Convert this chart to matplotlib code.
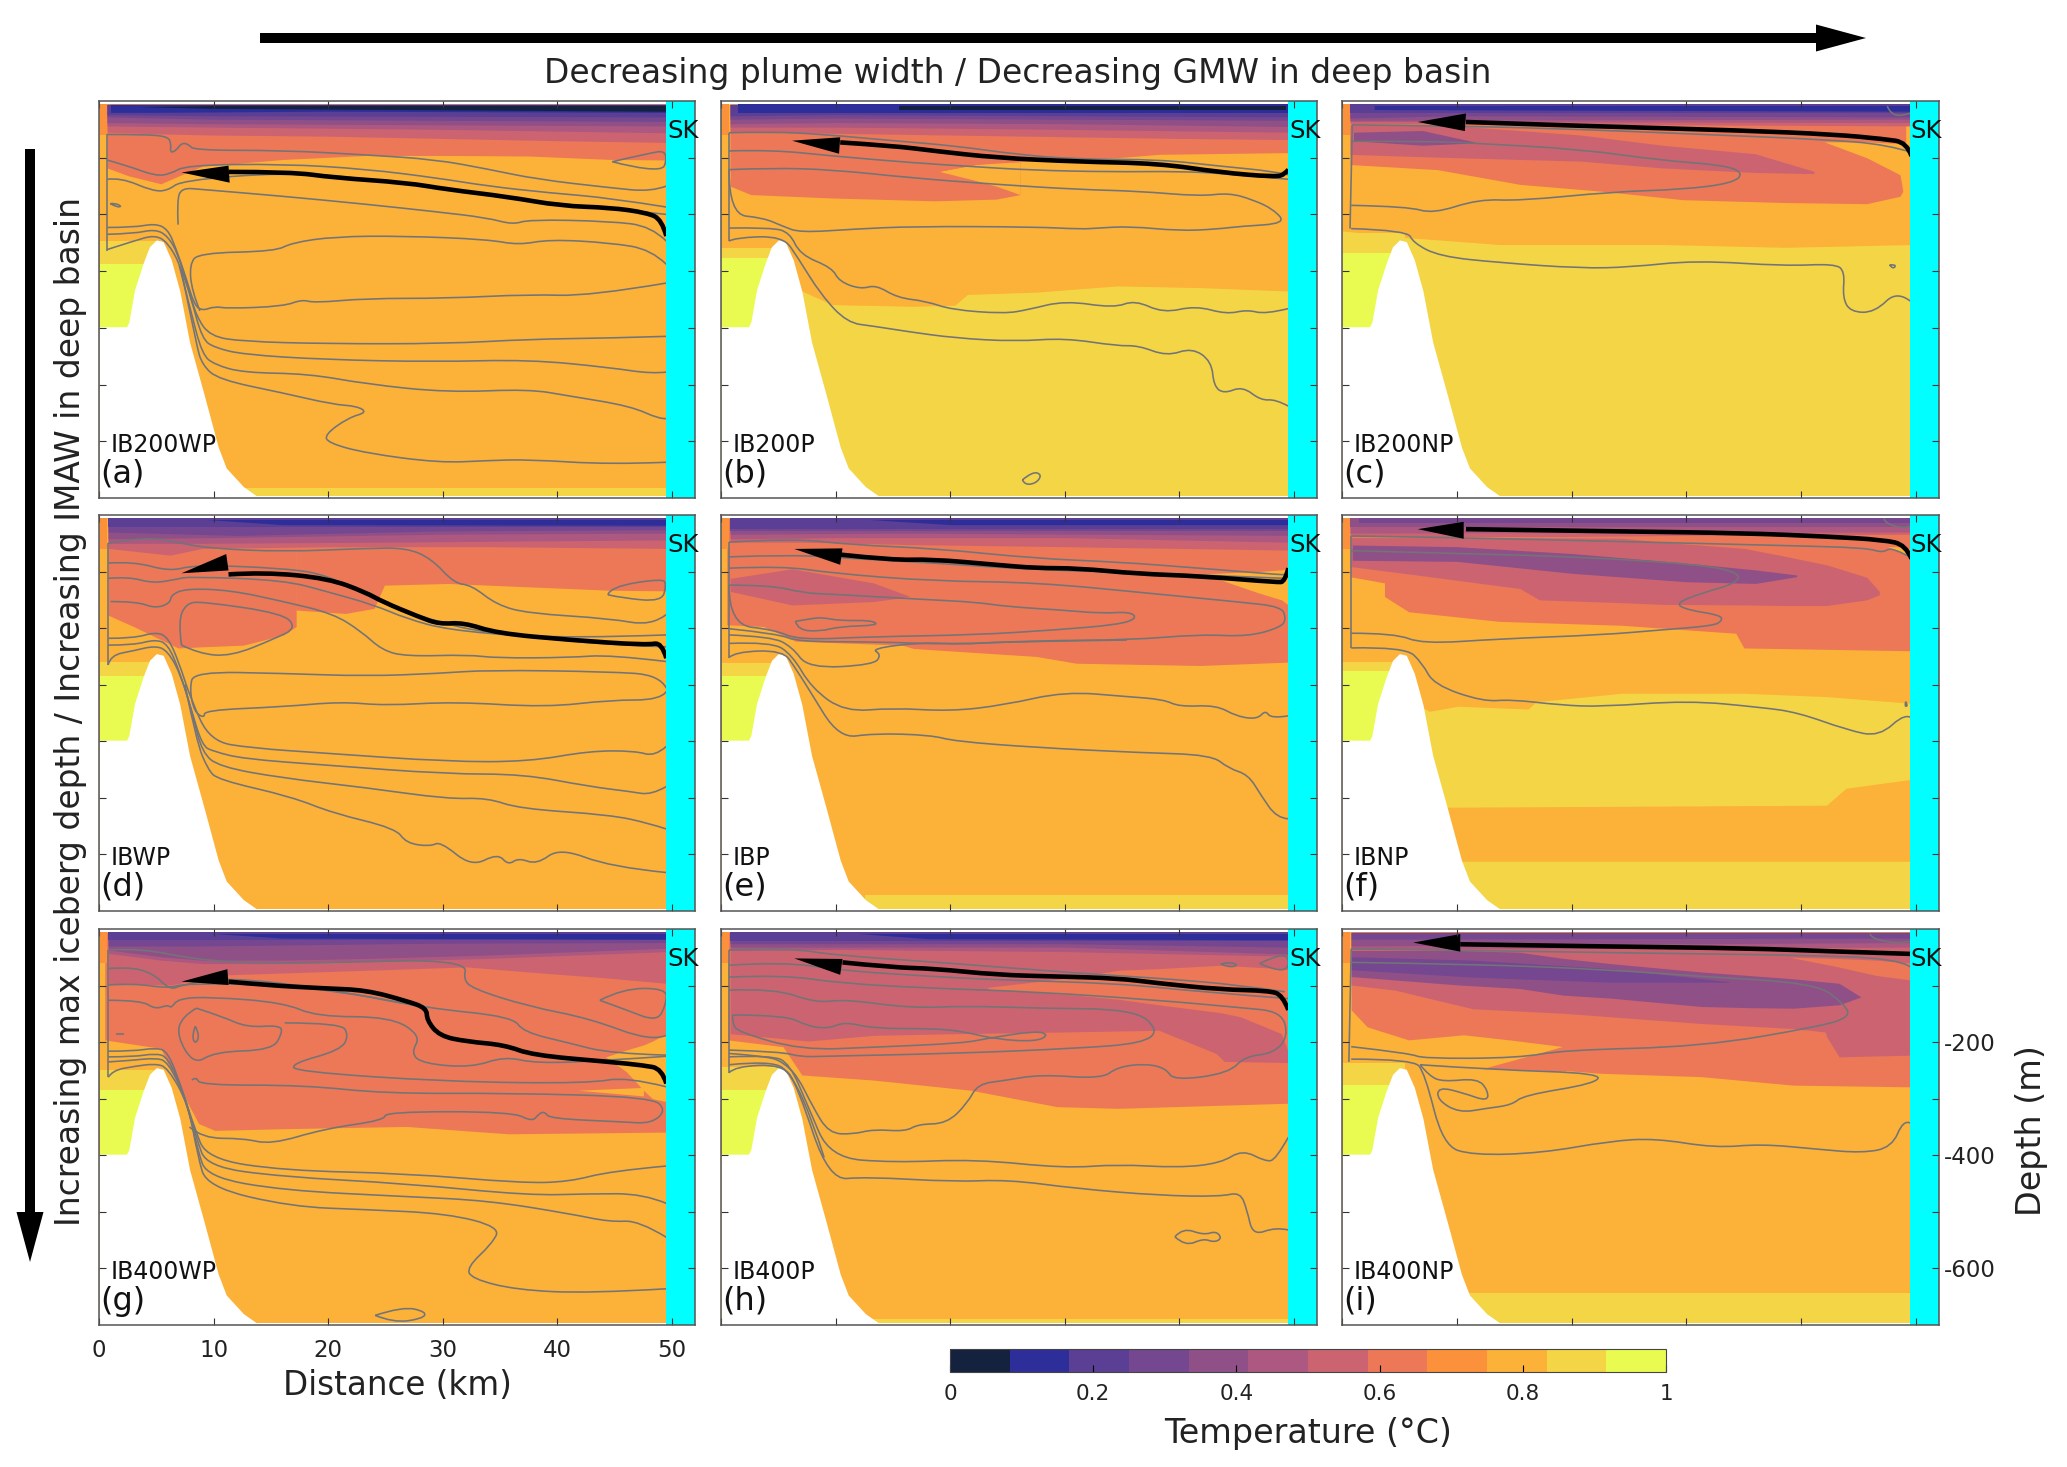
import numpy as np
import matplotlib
matplotlib.use('Agg')
import matplotlib.pyplot as plt
from matplotlib.colors import ListedColormap, BoundaryNorm
from matplotlib.cm import ScalarMappable
from matplotlib.patches import FancyArrow, PathPatch
from matplotlib.path import Path

W, H = 2067, 1467

# colour bands of the temperature scale
band_colors = ['#14223f', '#2e2e9a', '#5a3f95', '#744790', '#8f5088', '#ad5880',
               '#cb6470', '#ec7857', '#fb923b', '#fcb138', '#f4d546', '#e9fb50']
band_edges = np.linspace(0, 1, 13)
cbar_ticks = [0, 0.2, 0.4, 0.6, 0.8, 1]
cbar_labels = ['0', '0.2', '0.4', '0.6', '0.8', '1']

# bathymetry, km and m
bathy_x = [0, 2.4, 2.6, 3.1, 3.85, 4.4, 5, 5.6, 6.3, 7.05, 7.9, 9.2, 10.4, 11.1, 12.6, 13.8, 14.2]
bathy_d = [398, 398, 390, 333, 286, 257, 245, 248, 280, 335, 425, 520, 610, 647, 680, 697, 700]

names = ['a', 'b', 'c', 'd', 'e', 'f', 'g', 'h', 'i']
runs = ['IB200WP', 'IB200P', 'IB200NP', 'IBWP', 'IBP', 'IBNP', 'IB400WP', 'IB400P', 'IB400NP']
base_temp = [0.79, 0.875, 0.875, 0.79, 0.79, 0.875, 0.79, 0.79, 0.79]
# depth where the 0.875 and the 0.96 band start in the shallow basin
basin_yellow = [247, 259, 232, 259, 262, 259, 250, 244, 237]
basin_green = [288, 276, 268, 285, 285, 275, 285, 284, 275]

# fills: (temp, x, lower) from the surface, or (temp, x, upper, lower)
fill_a = [
    (0.875, [12.6, 49.5], [682, 682], [697, 697]),
    (0.625, [0.7, 2.6, 5.4, 7.2, 9, 16.1, 23.3, 30.4, 37.5, 44.6, 49.5], [118, 132, 146, 130, 115, 103, 96, 96, 97, 103, 104]),
    (0.54, [0.7, 5.4, 10, 20, 30, 40, 49.5], [55, 58, 60, 62, 66, 70, 73]),
    (0.46, [0.7, 10, 20, 30, 49.5], [44, 46, 48, 50, 56]),
    (0.375, [0.7, 10, 49.5], [38, 40, 44]),
    (0.29, [0.7, 10, 49.5], [28, 32, 36]),
    (0.21, [0.7, 10, 49.5], [24, 26, 28]),
    (0.125, [1, 5, 20, 49.5], [20, 20, 18, 20]),
    (0.04, [3.5, 10, 49.5], [10, 8, 8], [10, 13, 18]),
]
lines_a = [
    [(0.7, 59), (3.7, 59), (6, 62), (6.3, 76), (6.2, 91), (6.7, 88), (7.2, 74), (7.8, 76), (8.3, 87), (16.1, 87), (23.3, 95), (29.3, 103), (33.9, 120), (38.2, 138), (44.6, 153), (48.2, 160), (49.5, 150)],
    [(0.7, 104), (2.6, 115), (4.9, 132), (6.2, 129), (7.6, 113), (16.1, 111), (23.3, 120), (29.6, 136), (33.9, 150), (39.3, 162), (44.6, 171), (49.5, 187)],
    [(44.8, 107), (48.2, 91), (49.4, 88), (49.5, 108), (49.1, 122), (46.4, 116), (44.8, 107)],
    [(0.7, 138), (1.9, 135), (4.7, 159), (6, 158), (7.2, 140), (16.1, 126), (23.3, 136), (30.4, 155), (39.3, 180), (44.6, 189), (49.5, 200)],
    [(6.9, 218), (6.8, 176), (7.2, 153), (9, 156), (16.1, 168), (23.3, 182), (29.3, 195), (33.9, 206), (36.1, 218), (37.5, 209), (44.6, 212), (48.2, 221), (49.5, 247)],
    [(0.7, 223), (3, 223), (4.9, 216), (6, 226), (6.7, 259), (7.6, 312), (8.3, 359), (9, 370), (10.1, 362), (11.2, 366), (16.1, 362), (17.7, 350), (18.8, 356), (23.3, 348), (30.4, 348), (37.5, 341), (42.8, 344), (49.5, 321)],
    [(49.5, 288), (48.2, 262), (44.6, 250), (39.3, 244), (36.6, 254), (33.9, 244), (26.5, 238), (20.6, 239), (16.8, 250), (15.4, 265), (8.7, 268), (7.9, 288), (8.1, 335), (8.8, 370)],
    [(0.7, 235), (3, 234), (4.9, 226), (6, 238), (6.9, 270), (7.8, 330), (8.5, 380), (9.7, 415), (12.6, 424), (19.7, 428), (30.4, 428), (37.5, 420), (44.6, 418), (49.5, 415)],
    [(0.7, 262), (3, 247), (4.9, 236), (6, 250), (7, 285), (8, 345), (9, 420), (10.1, 435), (12.6, 447), (19.7, 456), (29.3, 460), (37.5, 456), (44.6, 470), (48.2, 481), (49.5, 478)],
    [(7, 290), (8, 370), (9, 447), (10.1, 465), (12.6, 479), (18.3, 481), (23.3, 499), (30.4, 514), (37.5, 508), (41, 520), (46.4, 538), (48.9, 561), (49.5, 560)],
    [(7.2, 300), (8.5, 430), (9, 465), (10.4, 491), (16.1, 515), (20.4, 535), (22.5, 538), (23.4, 549), (21.8, 558), (19.7, 588), (20, 603), (23.3, 621), (29.7, 638), (33.9, 634), (37.5, 632), (44.6, 641), (49.5, 637)],
    [(1, 181), (1.4, 180), (2, 186), (1.5, 187), (1, 181)],
    [(0.7, 59), (0.7, 265)],
]
plume_a = [(49.5, 238), (49.1, 209), (47.8, 197), (44.6, 188), (40.3, 185), (35.7, 169), (30.4, 156), (26.8, 144), (20.4, 135), (16.8, 125), (11.3, 125)]
head_a = [(7.2, 126), (11.3, 114), (11.4, 144)]

fill_b = [
    (0.79, [0, 7.05, 9.7, 16.8, 20.4, 21.5, 27.5, 34.6, 41.8, 49.5], [259, 335, 359, 362, 360, 341, 337, 326, 329, 335]),
    (0.625, [0.8, 2.6, 9.7, 18.6, 24, 26.1], [150, 165, 171, 176, 173, 165]),
    (0.79, [19, 22.2, 24, 26.1], [124, 112, 108, 107], [124, 140, 150, 165]),
    (0.625, [0.8, 19, 22.2, 27.5, 34.6, 38.2, 49.5], [124, 124, 112, 105, 100, 94, 91]),
    (0.54, [0.8, 10, 20, 30, 40, 49.5], [54, 57, 60, 63, 66, 68]),
    (0.46, [0.8, 10, 30, 49.5], [46, 46, 50, 55]),
    (0.375, [0.8, 10, 30, 49.5], [40, 38, 40, 45]),
    (0.29, [0.8, 10, 49.5], [32, 30, 34]),
    (0.21, [0.8, 10, 49.5], [26, 24, 28]),
    (0.125, [1.5, 4, 15, 49.5], [22, 22, 22, 22]),
    (0.04, [15.5, 49.3], [9, 9], [15, 15]),
]
lines_b = [
    [(0.7, 56), (4.4, 54), (9, 59), (15, 70), (20.4, 79), (25.7, 94), (31.1, 103), (38.2, 103), (43.6, 115), (48.2, 124), (49.5, 130)],
    [(0.7, 88), (4.4, 86), (9.7, 97), (16.8, 109), (21.5, 115), (27, 122), (34, 125), (40, 124), (44, 128), (49.5, 138)],
    [(0.7, 121), (4.4, 118), (9.7, 121), (16.8, 136), (24, 147), (31.1, 156), (36.5, 159), (41.8, 168), (44.3, 162), (46.4, 174), (48.2, 191), (49.3, 216), (45.3, 221), (43.2, 226), (40, 229), (35.7, 221), (32.9, 224), (31.4, 226), (27.5, 222), (16.8, 221), (11.5, 226), (6.9, 232), (5.4, 221), (3.7, 206), (0.7, 200), (0.7, 121)],
    [(0.7, 224), (4.4, 223), (6, 232), (6.9, 271), (9.7, 294), (10.3, 318), (12.2, 332), (13.5, 324), (15.4, 347), (17.9, 353), (20.1, 368), (24.7, 375), (26.8, 368), (30, 352), (34.3, 365), (36.1, 351), (38.6, 374), (41.4, 361), (44.1, 376), (45.9, 368), (47.5, 376), (49.5, 366)],
    [(0.7, 247), (1.2, 241), (5.4, 238), (6.7, 276), (8.7, 341), (11, 391), (13.3, 397), (16.1, 406), (20.4, 418), (25.7, 424), (30, 418), (34.6, 432), (36.4, 431), (38.9, 450), (41.1, 435), (42.8, 459), (43, 503), (43.9, 516), (45.5, 503), (47.1, 528), (48.4, 526), (49.5, 538)],
    [(26.3, 668), (27.2, 653), (28, 659), (27.5, 674), (26.5, 677), (26.3, 668)],
    [(0.7, 56), (0.7, 247)],
]
plume_b = [(49.5, 121), (49.2, 129), (48.4, 134), (43.6, 126), (38.2, 110), (31.1, 107), (24, 100), (18.6, 88), (15, 79), (10.4, 73)]
head_b = [(6.2, 70), (10.4, 64), (10.3, 93)]

fill_c = [
    (0.79, [0, 5.8, 13.7, 27.9, 38.6, 49.7], [229, 241, 253, 253, 258, 253]),
    (0.625, [0.7, 8.3, 15.5, 22.6, 29.7, 38.6, 45.7, 48.6, 49.1], [112, 121, 147, 159, 174, 179, 181, 168, 150]),
    (0.79, [42, 45.7, 48.6, 49.7], [72, 72, 75, 70], [72, 100, 130, 253]),
    (0.54, [0.7, 5, 10, 20.8, 27.9, 36, 41.1], [42, 42, 44, 60, 78, 93, 124], [94, 97, 100, 106, 118, 126, 128]),
    (0.375, [1, 7, 11.5], [55, 52, 72], [70, 78, 74]),
    (0.54, [0.7, 10, 20, 30, 49.7], [40, 40, 42, 42, 44]),
    (0.46, [0.7, 49.7], [36, 38]),
    (0.375, [0.7, 49.7], [34, 32]),
    (0.29, [0.7, 10, 49.7], [30, 26, 28]),
    (0.21, [0.7, 49.7], [22, 22]),
    (0.125, [2.8, 49.7], [8, 8], [15, 18]),
]
lines_c = [
    [(0.9, 42), (10.1, 44), (20.8, 50), (31.5, 59), (42.2, 68), (47.5, 77), (49.7, 91)],
    [(0.8, 71), (8.3, 71), (11.9, 75), (20.8, 85), (27.9, 105), (33.3, 113), (35, 127), (34, 145), (29.7, 156), (23.6, 160), (15.5, 176), (11.9, 173), (7.9, 199), (5.8, 186), (0.8, 184)],
    [(0.9, 42), (0.7, 225)],
    [(0.8, 225), (5.7, 228), (6.2, 250), (8.5, 274), (13.7, 285), (20.8, 295), (25.1, 293), (30.8, 281), (38.6, 291), (42.9, 287), (43.8, 300), (43.6, 347), (44.3, 372), (46.4, 373), (48.4, 333), (49.7, 356)],
    [(47.7, 289), (48.3, 288), (48, 297), (47.7, 289)],
    [(47.5, 9), (47.7, 20), (48.6, 28), (49.7, 20)],
]
plume_c = [(49.6, 97), (49.2, 73), (47.2, 67), (42.9, 59), (35, 52), (20.8, 44), (10.8, 37)]
head_c = [(6.6, 37), (10.8, 22), (10.7, 53)]

fill_d = [
    (0.625, [0.8, 3, 6.9, 9, 12.6, 16.1, 17.2], [177, 197, 235, 233, 230, 212, 197]),
    (0.625, [17.2, 21.5, 24, 24.9, 30.4, 37.5, 44.6, 49.5], [168, 174, 165, 124, 121, 127, 133, 134]),
    (0.625, [0.8, 17.2], [120, 168]),
    (0.54, [0.8, 6.2, 9, 20.4, 34, 49.5], [59, 71, 59, 56, 56, 59]),
    (0.46, [0.8, 9, 25, 49.5], [50, 50, 48, 44]),
    (0.375, [0.8, 10, 30, 49.5], [42, 40, 34, 32]),
    (0.29, [0.8, 12, 30, 49.5], [30, 36, 28, 26]),
    (0.21, [0.8, 49.5], [22, 22]),
    (0.125, [9.4, 16, 49.5], [8, 8, 8], [8, 17, 18]),
]
lines_d = [
    [(0.8, 50), (4, 38), (7.2, 50), (9.7, 59), (16.1, 65), (23.3, 59), (26.8, 58), (29, 77), (31, 121), (32.5, 124), (34.7, 159), (37.5, 174), (44.6, 183), (48.2, 196), (49.5, 176)],
    [(0.8, 85), (3, 82), (6.2, 100), (8.3, 88), (16.1, 94), (20, 106), (24.3, 153), (29.3, 188), (33.9, 209), (41.1, 218), (49.5, 212)],
    [(0.8, 112), (2.6, 109), (4.7, 121), (6.9, 113), (7.9, 109), (16.1, 115), (20, 136), (24, 159), (26.8, 183), (30.4, 203), (37.5, 215), (44.6, 230), (49.5, 233)],
    [(1, 153), (3.3, 153), (4.9, 165), (6.2, 156), (6.3, 141), (7.6, 130), (11.5, 133), (16.1, 153), (20.4, 174), (22.9, 206), (24.7, 239), (26.8, 250), (32.2, 247), (34.7, 253), (41.1, 252), (44.6, 247), (49.5, 259)],
    [(7.2, 230), (6.9, 188), (7.6, 156), (9, 153), (16.1, 174), (17.2, 200), (15.4, 218), (11.5, 250), (8.7, 245), (7.2, 230)],
    [(44.4, 141), (44.6, 127), (49.2, 112), (49.5, 124), (49.1, 153), (45.7, 147), (44.4, 141)],
    [(49.5, 306), (48.9, 283), (44.6, 277), (33.9, 274), (29.7, 280), (23.3, 285), (16.1, 280), (8.3, 277), (7.9, 306), (8.3, 348), (9.2, 359), (9.2, 345), (16.1, 339), (21.1, 330), (25, 337), (31, 330), (39, 340), (44.6, 327), (49, 327), (49.5, 312)],
    [(0.8, 218), (3, 218), (4.9, 207), (6, 215), (7, 262), (8, 325), (9.7, 400), (13.3, 412), (19.7, 421), (30.4, 436), (37.5, 436), (42.8, 417), (46.8, 417), (48.5, 427), (49.5, 409)],
    [(0.8, 230), (3, 230), (4.9, 220), (6, 228), (7, 275), (8, 340), (9, 408), (10, 418), (12.6, 431), (19.7, 442), (30.4, 458), (37, 458), (42.8, 480), (46.4, 489), (48.2, 495), (49.5, 480)],
    [(0.8, 265), (1, 248), (3, 240), (4.9, 231), (6, 240), (7.2, 285), (8.2, 355), (9, 420), (10.5, 445), (16, 465), (23.3, 482), (30.4, 502), (33.9, 500), (36.6, 519), (44.6, 530), (48, 545), (49.5, 555)],
    [(7.5, 300), (8.5, 400), (9.5, 450), (10.4, 468), (16.8, 498), (20.4, 527), (25.9, 554), (26.8, 580), (28.9, 586), (29.8, 577), (32.5, 622), (34.8, 598), (35.7, 619), (36.6, 606), (38.2, 618), (40.2, 588), (44.6, 622), (49.5, 632)],
    [(0.8, 50), (0.8, 265)],
]
plume_d = [(49.5, 253), (49.1, 225), (47.8, 230), (41.1, 221), (34.7, 209), (31.8, 190), (29.7, 193), (27.9, 180), (24.7, 153), (23.3, 137), (20, 112), (14.4, 101), (11.3, 105)]
head_d = [(7.2, 103), (11.1, 69), (11.3, 98)]

fill_e = [
    (0.875, [12.6, 49.5], [672, 672], [697, 697]),
    (0.625, [0.5, 3.7, 6.5, 15.8, 16.8, 27.5, 31, 41.8, 49.5], [194, 197, 223, 230, 236, 250, 262, 266, 260]),
    (0.79, [41, 43.2, 46.8, 48.9, 49.5], [105, 103, 100, 97, 94], [105, 112, 137, 150, 159]),
    (0.54, [0.8, 6.2, 13.3, 16.5], [112, 95, 120, 144], [135, 159, 153, 144]),
    (0.54, [0.8, 7, 16, 30, 49.5], [48, 48, 52, 56, 62]),
    (0.46, [0.8, 10, 30, 49.5], [42, 40, 40, 48]),
    (0.375, [0.8, 16, 49.5], [34, 32, 36]),
    (0.29, [0.8, 49.5], [28, 28]),
    (0.21, [0.8, 49.5], [24, 24]),
    (0.125, [13, 20, 49.5], [8, 8, 8], [8, 17, 17]),
]
lines_e = [
    [(0.7, 48), (6.2, 41), (11.5, 53), (18.6, 59), (27.5, 77), (34.6, 83), (41.8, 94), (49, 106), (49.5, 106)],
    [(0.7, 74), (6.2, 70), (11.5, 77), (18.6, 85), (27.5, 97), (38.2, 103), (49.2, 112)],
    [(0.7, 94), (5.4, 90), (9.7, 103), (18.6, 117), (27.5, 119), (38.2, 140), (45.3, 154), (48.9, 162), (49.3, 183), (48.9, 198), (46, 215), (41.8, 211), (35.7, 221), (27.5, 222), (20.4, 229), (13.3, 224), (6.7, 224), (5, 210), (0.7, 201)],
    [(0.7, 124), (4.4, 124), (7.2, 138), (9.7, 140), (18.3, 150), (22.2, 154), (25, 162), (29.7, 168), (33.2, 174), (35.7, 171), (36.3, 183), (34.6, 194), (29.3, 203), (22.2, 212), (13.3, 215), (6.7, 221), (4.7, 203), (0.7, 194), (0.7, 124)],
    [(6.5, 188), (7.9, 183), (8.8, 181), (10.4, 187), (13.1, 186), (13.8, 195), (10.4, 197), (8.6, 206), (6.7, 203), (6.5, 188)],
    [(0.7, 212), (4.4, 215), (6.2, 233), (7.6, 271), (13.3, 265), (14, 247), (13.1, 236), (17.6, 225), (21, 229), (24, 224), (35.4, 221)],
    [(0.7, 227), (4.4, 224), (6.2, 247), (7.9, 306), (10.8, 348), (15, 341), (20, 347), (24.7, 336), (30, 312), (35.4, 321), (38.6, 326), (40, 339), (43.2, 336), (45, 356), (46.8, 361), (47.5, 345), (48, 360), (49.5, 355)],
    [(0.7, 252), (1.2, 242), (5.4, 239), (6.5, 271), (7.6, 306), (10.3, 395), (13.3, 386), (18.3, 389), (20.4, 400), (27.5, 411), (36.4, 420), (42.8, 424), (44.3, 448), (46, 459), (47.1, 495), (48.5, 536), (49.5, 537)],
    [(0.7, 48), (0.7, 252)],
]
plume_e = [(49.5, 94), (49.2, 118), (48.5, 119), (41.8, 108), (36.4, 104), (31.1, 94), (27.5, 94), (24, 88), (18.3, 78), (15, 80), (10.4, 70)]
head_e = [(6.4, 60), (10.6, 59), (10.4, 88)]

fill_f = [
    (0.79, [5, 42.2, 43.9, 49.7], [517, 513, 483, 467], [612, 612, 612, 612]),
    (0.79, [0, 7.6, 10.1, 16.2, 16.9, 24.4, 35, 42.2, 49.7], [259, 347, 338, 343, 330, 315, 315, 321, 333]),
    (0.625, [3.7, 5.8, 13.7, 24.4, 34.3, 35, 49.7], [144, 171, 188, 195, 209, 235, 240]),
    (0.625, [0.7, 3.7, 4.9, 5.8], [6, 6, 6, 6], [109, 120, 129, 171]),
    (0.54, [0.7, 6.5, 15.5, 17.2, 24.4, 27.9, 35, 38.6, 42.2, 45.7, 46.8], [40, 40, 40, 40, 41, 48, 59, 73, 88, 110, 135], [91, 106, 130, 150, 155, 158, 159, 160, 160, 150, 141]),
    (0.375, [0.9, 10, 20, 30, 36, 39.6], [53, 56, 68, 85, 97, 106], [80, 82, 103, 118, 121, 109]),
    (0.54, [0.7, 20, 30, 49.7], [38, 38, 36, 34]),
    (0.79, [47.5, 49, 49.7], [56, 56, 62], [56, 68, 75]),
    (0.46, [0.7, 49.7], [32, 30]),
    (0.375, [0.7, 49.7], [22, 22]),
    (0.29, [1.5, 49.7], [14, 14]),
]
lines_f = [
    [(0.8, 37), (10.1, 40), (24.4, 47), (38.6, 54), (45.7, 58), (47.1, 67), (47.9, 56), (49.7, 77)],
    [(0.8, 63), (10.1, 68), (20.8, 74), (31.5, 88), (34.7, 103), (34.3, 121), (31.5, 137), (29, 156), (30.1, 168), (33, 177), (33.1, 188), (32.2, 196), (27.9, 203), (22.6, 212), (13.7, 219), (7, 228), (4.6, 209), (0.8, 209)],
    [(0.8, 37), (0.8, 235)],
    [(0.8, 235), (5.5, 233), (7, 262), (8, 300), (12.3, 330), (14.7, 326), (19, 336), (22.6, 339), (30.1, 328), (36.5, 340), (39.7, 349), (44, 380), (46.8, 392), (49.1, 349), (49.7, 360)],
    [(49.1, 330), (49.3, 337), (49, 339), (49.1, 330)],
    [(47.2, 6), (47.3, 15), (49.1, 25), (49.7, 18)],
]
plume_f = [(49.6, 77), (49.1, 53), (47.2, 44), (42.2, 38), (35, 32), (24.4, 29), (10.8, 25)]
head_f = [(6.6, 25), (10.6, 12), (10.6, 42)]

fill_g = [
    (0.625, [0.5, 5.4, 6.5, 8.7, 10.1, 16.1, 26.8, 35.7, 49.5], [196, 211, 261, 344, 356, 353, 349, 362, 359]),
    (0.79, [44.2, 46, 47.5, 48.3, 49.5], [226, 214, 205, 198, 185], [226, 252, 285, 300, 305]),
    (0.79, [41.8, 47.5], [285, 280], [285, 295]),
    (0.54, [0.8, 6.2, 11.1, 23.3, 32.1, 37.5, 44.6, 49.5], [96, 99, 81, 73, 67, 76, 87, 96]),
    (0.46, [0.8, 5.4, 9, 16, 23.3, 33.9, 49.5], [43, 55, 61, 61, 58, 52, 40]),
    (0.375, [0.8, 5.4, 9, 16, 23.3, 33.9, 49.5], [37, 49, 55, 55, 52, 46, 34]),
    (0.29, [0.8, 9, 30, 49.5], [30, 30, 25, 24]),
    (0.21, [0.8, 9, 49.5], [20, 20, 20]),
    (0.125, [10, 16, 49.5], [8, 8, 8], [8, 16, 18]),
]
lines_g = [
    [(0.8, 37), (3.7, 34), (8.3, 54), (14.4, 61), (23.3, 58), (28.6, 55), (32.1, 64), (31.8, 87), (32.5, 105), (37.5, 137), (42.8, 158), (48.2, 199), (49.5, 188)],
    [(0.8, 70), (2.6, 67), (4.7, 78), (6.2, 108), (7.2, 99), (11.1, 85), (19.7, 105), (28.6, 140), (36.1, 155), (37, 182), (41.1, 202), (44.6, 220), (49.5, 223)],
    [(0.8, 126), (3.7, 126), (4.9, 142), (6, 134), (6.3, 140), (6.9, 123), (9.7, 120), (16.1, 130), (19, 155), (25.4, 155), (28.1, 188), (27.2, 220), (28.3, 238), (32.5, 245), (35.4, 225), (38.2, 238), (44.6, 232), (49.5, 225)],
    [(0.8, 99), (3, 96), (6, 105), (7.6, 96), (16.1, 99), (19.3, 107), (25.4, 125), (28.6, 140)],
    [(8.5, 140), (7.2, 155), (6.8, 190), (8.3, 240), (10.1, 217), (15.1, 214), (16, 184), (15.8, 170), (12.9, 174), (10.8, 155), (8.5, 140)],
    [(8.4, 172), (8.1, 188), (8.4, 204), (8.8, 188), (8.4, 172)],
    [(16.2, 166), (21.1, 166), (21.8, 188), (21.1, 214), (16.8, 238), (17.2, 252), (30.4, 270), (42.8, 273), (46, 261), (49.5, 279)],
    [(43.7, 126), (45.7, 105), (49.5, 105), (49.5, 132), (48.7, 164), (46, 143), (43.7, 126)],
    [(8.1, 267), (8.5, 261), (8.8, 276), (17.9, 276), (25, 291), (35.7, 290), (48.2, 297), (49.5, 320), (48.2, 344), (45.7, 341), (39.3, 335), (38.9, 323), (38.4, 326), (37.8, 341), (36.1, 323), (25, 323), (24.9, 338), (19.7, 353), (15, 381), (12.6, 370), (9, 370), (7.9, 350)],
    [(0.8, 216), (3, 216), (4.9, 210), (6, 216), (7.2, 280), (8.3, 350), (9.4, 406), (16.1, 427), (26.8, 432), (36.8, 449), (41, 447), (44.6, 428), (49.5, 419)],
    [(0.8, 226), (3, 226), (4.9, 220), (6, 226), (7.4, 290), (8.5, 370), (9.4, 420), (16, 438), (26.8, 450), (37.5, 471), (42.8, 468), (47.5, 468), (49.5, 485)],
    [(0.8, 235), (3, 232), (4.9, 228), (6, 234), (7.6, 300), (8.6, 390), (9.4, 438), (16, 462), (26.8, 473), (33.9, 480), (41, 503), (44.6, 518), (47.1, 515), (49.5, 545)],
    [(0.8, 262), (1.2, 250), (3, 243), (4.9, 238), (6, 245), (7.8, 310), (8.6, 400), (9.4, 456), (16.8, 491), (23.3, 496), (30.4, 503), (35, 527), (34.3, 556), (32.1, 598), (32.5, 618), (36.4, 638), (42.8, 644), (49.5, 636)],
    [(24.1, 683), (26.5, 667), (28.6, 677), (28.2, 689), (25.7, 696), (24.1, 683)],
    [(1.5, 185), (2.2, 185)],
    [(0.8, 37), (0.8, 262)],
]
plume_g = [(49.5, 273), (49.1, 247), (47.5, 241), (44.6, 235), (37.8, 223), (35.4, 205), (32.1, 199), (29.7, 189), (28.6, 161), (28.6, 140), (26.8, 127), (23.3, 108), (19.7, 105), (14.4, 99), (11.3, 93)]
head_g = [(7.2, 93), (11.2, 71), (11.3, 99)]

fill_h = [
    (0.875, [13, 49.5], [689, 689], [697, 697]),
    (0.625, [0.6, 5.4, 7.05, 13.3, 21.8, 29.3, 34.6, 49.5], [196, 208, 258, 267, 285, 314, 317, 308]),
    (0.54, [0.8, 7.6, 13.3, 20.4, 30, 38.2, 43.2, 43.9, 49.5], [185, 198, 188, 185, 182, 179, 220, 234, 236]),
    (0.625, [23.3, 31, 34.6, 38.2, 43.6, 45.3, 48.9, 49.5], [103, 85, 73, 70, 64, 66, 70, 72], [106, 117, 124, 134, 148, 155, 185, 218]),
    (0.46, [0.8, 10, 30, 49.5], [38, 36, 40, 48]),
    (0.375, [0.8, 30, 49.5], [32, 32, 44]),
    (0.29, [0.8, 30, 49.5], [26, 26, 32]),
    (0.21, [0.8, 49.5], [22, 22]),
    (0.125, [12, 18, 49.5], [8, 8, 8], [8, 17, 19]),
]
lines_h = [
    [(0.7, 37), (6.2, 34), (9.7, 46), (20.4, 61), (31, 78), (38.2, 87), (45.3, 99), (49.2, 111)],
    [(0.7, 64), (5.4, 58), (10.4, 73), (16.8, 82), (24, 90), (34.6, 96), (41.8, 111), (49.5, 123)],
    [(0.7, 85), (5.4, 81), (10.4, 96), (18.6, 105), (27.5, 111), (38.2, 126), (45.3, 139), (48.9, 146), (49.5, 190), (48.2, 220), (45.7, 225), (44.3, 255), (39.5, 268), (38.8, 246), (37, 238), (34.6, 244), (33.2, 265), (27.9, 257), (24.7, 268), (22.4, 274), (21.5, 308), (19.7, 344), (17.2, 345), (16.1, 358), (13.3, 354), (11.5, 363), (9.4, 361), (8, 314), (6.7, 261), (5.4, 235), (4, 225), (0.7, 220)],
    [(0.7, 108), (4.7, 105), (8.3, 131), (10.8, 124), (16.5, 140), (21.5, 136), (27.5, 140), (36.1, 142), (38.2, 179), (36.8, 202), (31.1, 211), (20.4, 220), (9, 225), (6.9, 226), (5.3, 217), (0.7, 214)],
    [(1, 152), (1, 167), (1.5, 182), (7, 214), (13.3, 209), (21.1, 202), (23.3, 193), (27.5, 180), (28.6, 187), (27.5, 199), (24, 195), (21.1, 181), (18.6, 176), (13.3, 176), (10.8, 164), (9.4, 176), (7.6, 172), (5.6, 152), (1, 152)],
    [(0.7, 226), (4.4, 223), (6, 238), (7.6, 314), (9.5, 404), (15, 413), (22.2, 407), (30, 423), (34.6, 416), (39.9, 422), (43.6, 414), (45.5, 390), (47.5, 411), (48.4, 408), (49.5, 368)],
    [(0.7, 254), (1.2, 243), (5.4, 239), (6.7, 279), (9.4, 444), (12.6, 438), (20.4, 447), (25, 443), (31.1, 459), (38.2, 471), (43.6, 473), (45.3, 465), (45.9, 497), (46.4, 542), (48.4, 527), (49.5, 532)],
    [(0.7, 240), (4.5, 232), (6.2, 258), (8, 340), (9, 404)],
    [(39.6, 544), (40.3, 528), (42.1, 541), (43.2, 534), (43.7, 547), (43, 554), (42.1, 547), (40.5, 561), (39.6, 544)],
    [(43.6, 62), (44.3, 58), (45.2, 64), (44.3, 68), (43.6, 62)],
    [(47, 61), (48.2, 49), (49.5, 46), (49.5, 72), (48.2, 72), (47, 61)],
    [(0.7, 37), (0.7, 254)],
]
plume_h = [(49.5, 143), (49, 117), (47.8, 109), (43.6, 107), (38.2, 96), (34.6, 87), (29.3, 84), (24, 81), (18.6, 70), (15, 68), (10.6, 59)]
head_h = [(6.4, 52), (10.6, 53), (10.4, 81)]

fill_i = [
    (0.875, [11, 49.5], [644, 644], [697, 697]),
    (0.625, [0.8, 2.2, 5.8, 10.6, 15, 19.3, 19.4, 22.5, 31.3, 39.3, 49.5], [143, 173, 196, 187, 197, 208, 250, 255, 261, 276, 279]),
    (0.625, [12.2, 19.5], [247, 206], [247, 251]),
    (0.54, [0.8, 4.6, 11.4, 19.3, 31.3, 39.3, 42.1, 42.2, 43.3, 49.5], [99, 108, 141, 149, 167, 176, 182, 190, 226, 223]),
    (0.625, [39, 43, 46.5, 49.5], [50, 52, 55, 60], [50, 66, 82, 90]),
    (0.375, [0.8, 10.2, 15.4, 19.3, 23.3, 31.3, 35.3, 39.3, 43.3, 45.2], [38, 38, 41, 52, 61, 76, 82, 88, 96, 120], [84, 99, 105, 117, 122, 137, 139, 140, 134, 120]),
    (0.29, [0.8, 11.4, 23.3, 33.7], [49, 55, 70, 93], [72, 85, 94, 94]),
    (0.54, [0.8, 20, 35, 49.5], [38, 38, 40, 45]),
    (0.46, [0.8, 49.5], [36, 32]),
    (0.375, [0.8, 30, 49.5], [30, 26, 24]),
    (0.29, [0.8, 49.5], [18, 16]),
]
lines_i = [
    [(0.8, 35), (11.4, 38), (27.3, 43), (39.3, 46), (48.5, 52), (49.5, 67)],
    [(0.8, 59), (11.4, 62), (23.3, 72), (31.3, 84), (41.3, 96), (43.7, 132), (44.3, 155), (41.7, 172), (31.3, 208), (19.3, 214), (15.4, 228), (7, 229), (6, 220), (0.8, 208)],
    [(0.8, 35), (0.6, 235)],
    [(0.8, 230), (6.2, 230), (7.2, 254), (8.8, 383), (11.4, 400), (17.4, 396), (23.3, 375), (27.3, 370), (32.5, 387), (36.5, 380), (41.3, 389), (45.3, 396), (47.9, 386), (48.9, 337), (49.5, 343)],
    [(6.8, 240), (7.6, 260), (8.8, 270), (11.8, 264), (12.7, 285), (12.7, 305), (10.6, 290), (8.4, 279), (8.3, 302), (10.2, 325), (12.6, 317), (14.8, 311), (15.8, 294), (22.1, 273), (22.5, 255), (13.4, 249), (6.8, 240)],
    [(46, 8), (46, 16), (48.3, 26), (49.5, 22)],
]
plume_i = [(49.5, 44), (43.3, 40), (35.3, 34), (23.3, 31), (10.3, 27)]
head_i = [(6.2, 24), (10.3, 9), (10.3, 40)]

all_fill = [fill_a, fill_b, fill_c, fill_d, fill_e, fill_f, fill_g, fill_h, fill_i]
all_lines = [lines_a, lines_b, lines_c, lines_d, lines_e, lines_f, lines_g, lines_h, lines_i]
all_plume = [plume_a, plume_b, plume_c, plume_d, plume_e, plume_f, plume_g, plume_h, plume_i]
all_head = [head_a, head_b, head_c, head_d, head_e, head_f, head_g, head_h, head_i]

cols = [(99, 695), (721, 1317), (1342, 1939)]
rows = [(101, 498), (515, 911), (929, 1325)]
SURFACE, FLOOR = 6, 697

cmap = ListedColormap(band_colors)
norm = BoundaryNorm(band_edges, cmap.N)


def pixel_axes(fig, x0, x1, y0, y1):
    ''' axes placed by pixel edges, y counted from the top '''
    return fig.add_axes([x0 / W, 1 - y1 / H, (x1 - x0) / W, (y1 - y0) / H])


def curve(points):
    ''' rounded path: the read points act as bezier controls '''
    p = np.array(points, dtype=float)
    p[:, 1] *= -1
    if len(p) < 3:
        return Path(p)
    verts, codes = [p[0]], [Path.MOVETO]
    for k in range(1, len(p) - 1):
        end = p[k + 1] if k == len(p) - 2 else (p[k] + p[k + 1]) / 2
        verts += [p[k], end]
        codes += [Path.CURVE3, Path.CURVE3]
    return Path(verts, codes)


def draw_panel(ax, i):
    ax.fill_between([0, 52], -SURFACE, -FLOOR, color=cmap(norm(base_temp[i])), lw=0)

    for item in all_fill[i]:
        temp, xs = item[0], item[1]
        if len(item) == 3:
            upper, lower = [SURFACE] * len(xs), item[2]
        else:
            upper, lower = item[2], item[3]
        ax.fill_between(xs, -np.array(upper), -np.array(lower), color=cmap(norm(temp)), lw=0)

    # warm strip along the wall and the shallow basin behind the sill
    ax.fill_between([0.1, 0.7], -SURFACE, -60, color=cmap(norm(0.71)), lw=0)
    ax.fill_between([0.1, 5.5], -basin_yellow[i], -basin_green[i], color=cmap(norm(0.875)), lw=0)
    ax.fill_between([0.1, 5.5], -basin_green[i], -420, color=cmap(norm(0.96)), lw=0)
    ax.fill_between(bathy_x, -np.array(bathy_d), -700, color='white', lw=0)

    for line in all_lines[i]:
        ax.add_patch(PathPatch(curve(line), fill=False, edgecolor='#727477', lw=1.15))

    ax.add_patch(PathPatch(curve(all_plume[i]), fill=False, edgecolor='black', lw=3.3, capstyle='butt'))
    xs, ds = zip(*all_head[i])
    ax.fill(xs, -np.array(ds), color='black', lw=0)

    ax.fill_between([49.5, 52], 0, -700, color='#00ffff', lw=0)

    ax.set_xlim(0, 52)
    ax.set_ylim(-700, 0)
    ax.set_xticks([0, 10, 20, 30, 40, 50])
    ax.set_yticks([-600, -500, -400, -300, -200, -100])
    ax.tick_params(direction='in', length=5, width=0.8, color='#333333', top=True, right=True,
                   labelbottom=False, labelleft=False, labelsize=16.5, labelcolor='#222222')
    for s in ax.spines.values():
        s.set_color('#555555')
        s.set_linewidth(1.1)

    ax.text(49.55, -53, 'SK', fontsize=17.5, va='center', ha='left', color='#111111')
    ax.text(1.0, -606, runs[i], fontsize=17, va='center', ha='left', color='#111111')
    ax.text(0.1, -658, '(%s)' % names[i], fontsize=23, va='center', ha='left', color='#111111')


fig = plt.figure(figsize=(W / 100, H / 100), dpi=100)

for r, (y0, y1) in enumerate(rows):
    for c, (x0, x1) in enumerate(cols):
        ax = pixel_axes(fig, x0, x1, y0, y1)
        draw_panel(ax, r * 3 + c)
        if r == 2 and c == 0:
            ax.tick_params(labelbottom=True, pad=10)
            ax.set_xlabel('Distance (km)', fontsize=23.5, color='#222222', labelpad=5)
        if r == 2 and c == 2:
            ax.set_yticks([-600, -500, -400, -300, -200, -100], ['-600', '', '-400', '', '-200', ''])
            ax.tick_params(labelright=True)

# colorbar
cax = pixel_axes(fig, 950, 1666, 1349, 1372)
cb = fig.colorbar(ScalarMappable(norm=norm, cmap=cmap), cax=cax, orientation='horizontal',
                  spacing='proportional', ticks=cbar_ticks)
cb.ax.set_xticklabels(cbar_labels)
cb.ax.tick_params(direction='in', length=5, width=0.8, labelsize=15.5, labelcolor='#222222', pad=9)
cb.outline.set_edgecolor('#444444')
cb.minorticks_off()
cb.set_label('Temperature (°C)', fontsize=24, color='#222222', labelpad=9)

# overlay in pixels for the two big arrows and their captions
over = fig.add_axes([0, 0, 1, 1], facecolor='none')
over.set_xlim(0, W)
over.set_ylim(H, 0)
over.axis('off')
over.add_patch(FancyArrow(260, 38, 1606, 0, width=10, head_width=27, head_length=50,
                          length_includes_head=True, color='black', lw=0))
over.add_patch(FancyArrow(30, 149, 0, 1113, width=10, head_width=27, head_length=50,
                          length_includes_head=True, color='black', lw=0))
over.text(1018, 74, 'Decreasing plume width / Decreasing GMW in deep basin', fontsize=23.7,
          ha='center', va='center', color='#222222')
over.text(71, 712, 'Increasing max iceberg depth / Increasing IMAW in deep basin', fontsize=23.7,
          rotation=90, ha='center', va='center', color='#222222')
over.text(2032, 1131, 'Depth (m)', fontsize=24, rotation=90, ha='center', va='center', color='#222222')

fig.savefig('out.png', dpi=100, facecolor='white')
